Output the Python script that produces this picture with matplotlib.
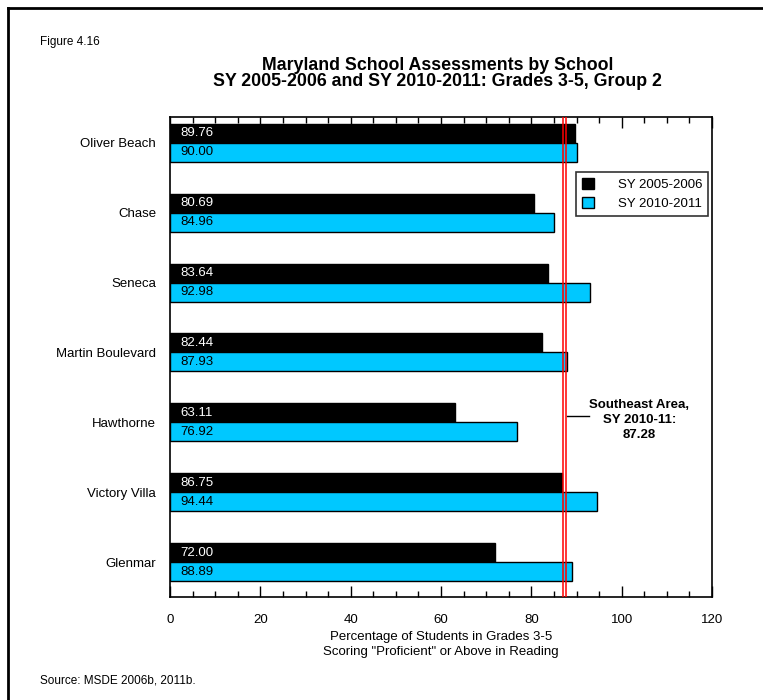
import matplotlib
matplotlib.use("Agg")
import matplotlib.pyplot as plt
from matplotlib.lines import Line2D
import numpy as np

plt.rcParams['font.family'] = ['Liberation Sans', 'DejaVu Sans']

schools = ["Oliver Beach", "Chase", "Seneca", "Martin Boulevard",
           "Hawthorne", "Victory Villa", "Glenmar"]
sy_2006 = [89.76, 80.69, 83.64, 82.44, 63.11, 86.75, 72.00]
sy_2011 = [90.00, 84.96, 92.98, 87.93, 76.92, 94.44, 88.89]
area_avg = 87.28
series_labels = ["SY 2005-2006", "SY 2010-2011"]

black = "#000000"
cyan = "#00c8ff"

fig = plt.figure(figsize=(7.63, 7.0), dpi=100)
ax = fig.add_axes([0.2228, 0.1471, 0.7104, 0.6857])

n = len(schools)
ypos = np.arange(n)[::-1]  # first school at top
h = 0.272

ax.barh(ypos + h / 2, sy_2006, height=h, color=black, edgecolor=black,
        linewidth=1, label=series_labels[0], zorder=2)
ax.barh(ypos - h / 2, sy_2011, height=h, color=cyan, edgecolor=black,
        linewidth=1, label=series_labels[1], zorder=2)

for y, a, b in zip(ypos, sy_2006, sy_2011):
    ax.text(2.2, y + h / 2, f"{a:.2f}", color="white", fontsize=9.5,
            va="center", ha="left", zorder=4)
    ax.text(2.2, y - h / 2, f"{b:.2f}", color="black", fontsize=9.5,
            va="center", ha="left", zorder=4)

# area average, drawn as a double red line
ax.axvline(area_avg - 0.38, color="red", lw=1.1, zorder=3)
ax.axvline(area_avg + 0.38, color="red", lw=1.1, zorder=3)

ax.set_xlim(0, 120)
ax.set_ylim(-0.5, 6.37)
ax.set_yticks(ypos)
ax.set_yticklabels(schools, fontsize=9.5)
ax.tick_params(axis="y", length=0, pad=10)

ax.set_xticks(np.arange(0, 121, 20))
ax.set_xticks(np.arange(0, 121, 5), minor=True)
ax.tick_params(axis="x", which="both", direction="in", top=True,
               bottom=True, width=1, labelsize=9.5, pad=12)
ax.tick_params(axis="x", which="major", length=8)
ax.tick_params(axis="x", which="minor", length=4)
for s in ax.spines.values():
    s.set_linewidth(1.2)

ax.set_xlabel("Percentage of Students in Grades 3-5\n"
              "Scoring \"Proficient\" or Above in Reading",
              fontsize=9.5, labelpad=4, linespacing=1.3)

leg = ax.legend(loc="upper right", bbox_to_anchor=(0.993, 0.886),
                fontsize=9.5, frameon=True, fancybox=False,
                edgecolor="black", handlelength=0.9, handleheight=0.9,
                handletextpad=1.8, borderpad=0.45, labelspacing=0.45,
                borderaxespad=0)
leg.get_frame().set_linewidth(1.2)

ax.text(0.866, 0.369, "Southeast Area,\nSY 2010-11:\n87.28",
        transform=ax.transAxes, ha="center", va="center", fontsize=9.5,
        fontweight="bold", linespacing=1.35)
ax.plot([0.733, 0.773], [0.377, 0.377], transform=ax.transAxes,
        color="black", lw=1, clip_on=False)

fig.text(0.573, 0.895, "Maryland School Assessments by School\n"
         "SY 2005-2006 and SY 2010-2011: Grades 3-5, Group 2",
         ha="center", va="center", fontsize=12.8, fontweight="bold",
         linespacing=0.95)
fig.text(0.052, 0.94, "Figure 4.16", fontsize=8.5, ha="left", va="center")
fig.text(0.052, 0.028, "Source: MSDE 2006b, 2011b.", fontsize=8.5,
         ha="left", va="center")

# outer frame (top and left edges visible)
fig.add_artist(Line2D([0.0105, 0.0105], [0, 0.988], color="black", lw=2,
                      transform=fig.transFigure))
fig.add_artist(Line2D([0.0105, 1.0], [0.988, 0.988], color="black", lw=2,
                      transform=fig.transFigure))

fig.savefig("out.png", dpi=100)
